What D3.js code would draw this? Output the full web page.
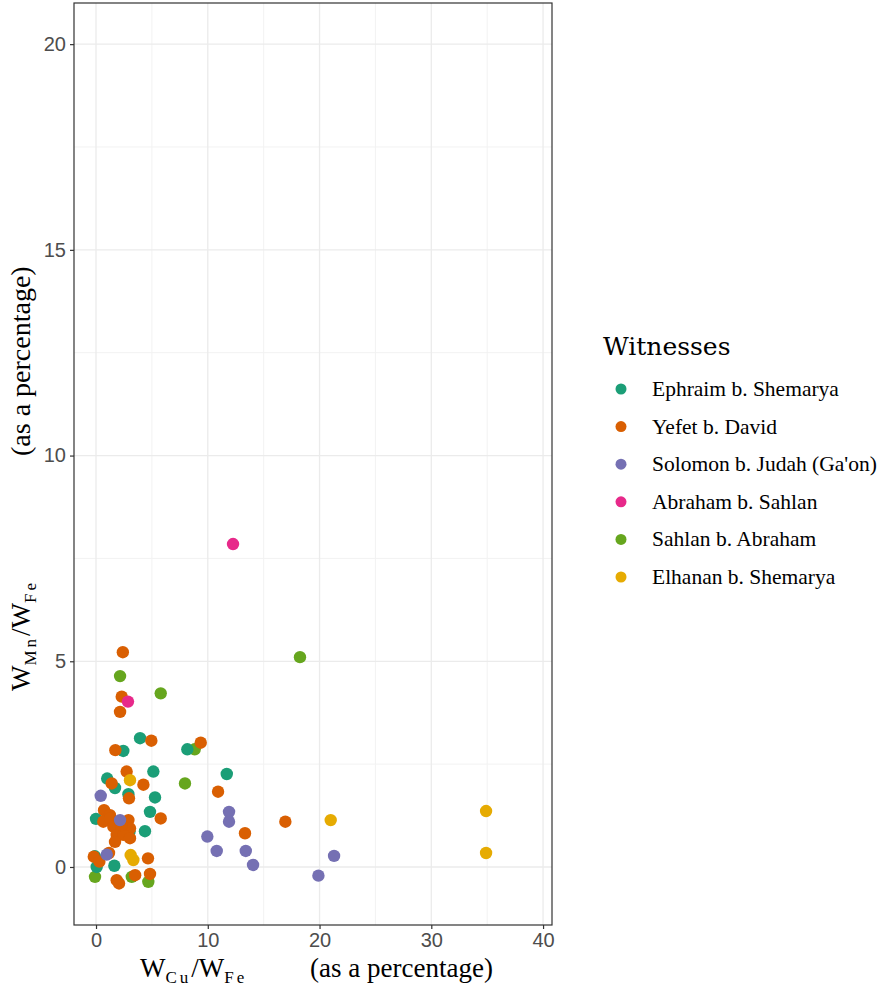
<!DOCTYPE html>
<html><head><meta charset="utf-8">
<script src="https://cdn.jsdelivr.net/npm/d3@7"></script>
<style>html,body{margin:0;padding:0;background:#fff;}svg{display:block;}</style>
</head><body>
<svg id="chart" width="885" height="988"></svg>
<script>
// ---- data ----
const seriesNames = ["Ephraim b. Shemarya","Yefet b. David","Solomon b. Judah (Ga'on)","Abraham b. Sahlan","Sahlan b. Abraham","Elhanan b. Shemarya"];
const seriesColors = ["#1B9E77","#D95F02","#7570B3","#E7298A","#66A61E","#E6AB02"];
const ephraim = [[0.0,1.17],[1.0,2.15],[1.7,1.92],[2.9,1.77],[2.44,2.82],[3.94,3.13],[5.13,2.32],[5.28,1.69],[4.83,1.34],[4.38,0.87],[3.0,0.86],[8.17,2.86],[11.7,2.26],[1.64,0.03],[0.06,0.0],[-0.1,0.26]];
const yefet = [[2.4,5.22],[2.3,4.14],[2.15,3.77],[4.95,3.07],[1.73,2.84],[9.37,3.02],[2.74,2.32],[1.4,2.03],[4.24,2.0],[2.95,1.67],[10.92,1.83],[5.79,1.18],[16.94,1.1],[13.33,0.82],[4.65,0.21],[-0.2,0.25],[0.3,0.13],[1.16,0.34],[1.85,-0.32],[2.06,-0.4],[3.5,-0.2],[4.83,-0.17],[0.72,1.38],[1.25,1.26],[0.8,1.14],[0.65,1.1],[1.25,1.18],[1.55,0.98],[2.9,1.14],[3.04,0.94],[1.85,0.78],[2.44,0.78],[3.04,0.7],[1.7,0.61],[2.3,1.02]];
const solomon = [[0.42,1.73],[11.9,1.34],[11.9,1.1],[9.96,0.74],[10.8,0.39],[13.4,0.39],[14.05,0.05],[19.9,-0.21],[21.3,0.27],[0.96,0.3],[2.15,1.14]];
const abraham = [[2.86,4.02],[12.26,7.85]];
const sahlan = [[2.15,4.64],[5.79,4.22],[8.83,2.86],[7.96,2.03],[18.25,5.1],[-0.09,-0.24],[3.2,-0.24],[4.68,-0.36]];
const elhanan = [[3.04,2.11],[3.1,0.29],[3.34,0.17],[21.0,1.14],[34.9,1.36],[34.9,0.34]];
const xTicks = [0,10,20,30,40];
const yTicks = [0,5,10,15,20];
const xMinor = [5,15,25,35];
const yMinor = [2.5,7.5,12.5,17.5];

const seriesData = [ephraim, yefet, solomon, abraham, sahlan, elhanan];
const drawOrder = [4,0,1,2,3,5];

// ---- layout ----
const svg = d3.select("#chart");
const P = {left:74, right:552, top:3, bottom:925};
const x = d3.scaleLinear().domain([-1.97, 40.8]).range([P.left, P.right]);
const y = d3.scaleLinear().domain([-1.41, 21.0]).range([P.bottom, P.top]);

// grid
const g = svg.append("g");
g.selectAll(".vminor").data(xMinor).join("line")
  .attr("x1",d=>x(d)).attr("x2",d=>x(d)).attr("y1",P.top).attr("y2",P.bottom)
  .attr("stroke","#F2F2F2").attr("stroke-width",1);
g.selectAll(".hminor").data(yMinor).join("line")
  .attr("y1",d=>y(d)).attr("y2",d=>y(d)).attr("x1",P.left).attr("x2",P.right)
  .attr("stroke","#F2F2F2").attr("stroke-width",1);
g.selectAll(".vmajor").data(xTicks).join("line")
  .attr("x1",d=>x(d)).attr("x2",d=>x(d)).attr("y1",P.top).attr("y2",P.bottom)
  .attr("stroke","#EBEBEB").attr("stroke-width",1.3);
g.selectAll(".hmajor").data(yTicks).join("line")
  .attr("y1",d=>y(d)).attr("y2",d=>y(d)).attr("x1",P.left).attr("x2",P.right)
  .attr("stroke","#EBEBEB").attr("stroke-width",1.3);

// points
drawOrder.forEach(i => {
  svg.append("g").selectAll("circle").data(seriesData[i]).join("circle")
    .attr("cx",d=>x(d[0])).attr("cy",d=>y(d[1])).attr("r",6.2)
    .attr("fill",seriesColors[i]);
});

// panel border
svg.append("rect").attr("x",P.left).attr("y",P.top)
  .attr("width",P.right-P.left).attr("height",P.bottom-P.top)
  .attr("fill","none").attr("stroke","#333").attr("stroke-width",1.2);

// axes
const xAxis = d3.axisBottom(x).tickValues(xTicks).tickSize(4).tickPadding(4);
const yAxis = d3.axisLeft(y).tickValues(yTicks).tickSize(4).tickPadding(4);
const ax = svg.append("g").attr("transform",`translate(0,${P.bottom})`).call(xAxis);
const ay = svg.append("g").attr("transform",`translate(${P.left},0)`).call(yAxis);
[ax,ay].forEach(a=>{
  a.select(".domain").remove();
  a.selectAll(".tick line").attr("stroke","#333").attr("stroke-width",1.2);
  a.selectAll(".tick text").attr("fill","#4D4D4D")
    .style("font-family","'Liberation Sans', Arial, sans-serif").style("font-size","20px");
});

// axis titles
const serif = "'Liberation Serif', 'Times New Roman', serif";
function mathTitle(sel, sub1, sub2){
  sel.append("tspan").text("W");
  sel.append("tspan").attr("dy",6).style("font-size","17px").attr("letter-spacing","3").text(sub1);
  sel.append("tspan").attr("dy",-6).text("/W");
  sel.append("tspan").attr("dy",6).style("font-size","17px").attr("letter-spacing","3").text(sub2);
}
const xt1 = svg.append("text").attr("x",140).attr("y",977)
  .style("font-family",serif).style("font-size","27px").attr("fill","#000");
mathTitle(xt1,"Cu","Fe");
svg.append("text").attr("x",310).attr("y",977)
  .style("font-family",serif).style("font-size","27px").attr("fill","#000")
  .text("(as a percentage)");

const yt1 = svg.append("text").attr("transform","translate(30,691) rotate(-90)")
  .style("font-family",serif).style("font-size","27px").attr("fill","#000");
mathTitle(yt1,"Mn","Fe");
svg.append("text").attr("transform","translate(30,456) rotate(-90)")
  .style("font-family",serif).style("font-size","28px").attr("fill","#000")
  .text("(as a percentage)");

// legend
svg.append("text").attr("x",603).attr("y",355)
  .style("font-family","'DejaVu Serif', serif").style("font-size","25px").attr("fill","#000").text("Witnesses");
const leg = svg.append("g").selectAll("g").data(seriesNames).join("g")
  .attr("transform",(d,i)=>`translate(0,${389 + i*37.6})`);
leg.append("circle").attr("cx",621).attr("cy",0).attr("r",5.5).attr("fill",(d,i)=>seriesColors[i]);
leg.append("text").attr("x",652).attr("y",7)
  .style("font-family",serif).style("font-size","21.5px").attr("fill","#000").text(d=>d);
</script>
</body></html>
